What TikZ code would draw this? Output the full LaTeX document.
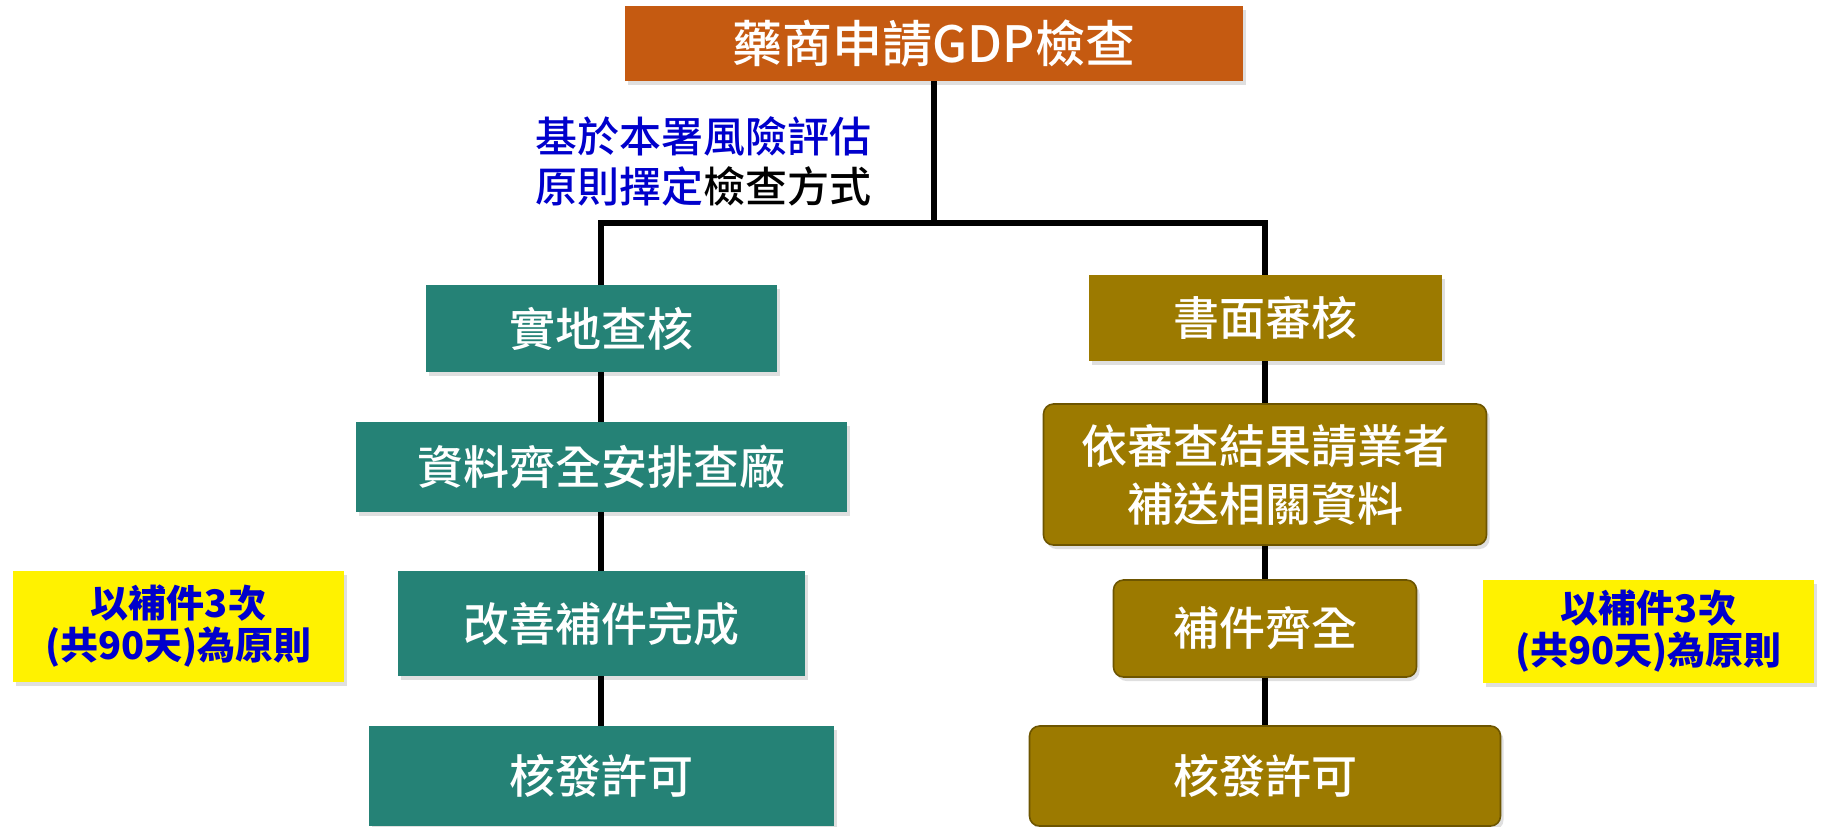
\documentclass[tikz,border=0pt]{standalone}
\usepackage{fontspec}
\setmainfont{Noto Sans CJK TC}
\newfontfamily\cjkmed{Noto Sans CJK TC Medium}
\usetikzlibrary{shadows}
\definecolor{orng}{HTML}{C55A11}
\definecolor{tealbg}{HTML}{258276}
\definecolor{olv}{HTML}{9C7A00}
\definecolor{blu}{HTML}{0000CC}
\begin{document}
\begin{tikzpicture}[x=0.5pt,y=-0.5pt,
  base/.style={inner sep=0pt, text=white, font=\fontsize{23}{29}\selectfont\cjkmed, align=center,
    drop shadow={shadow xshift=1.5pt, shadow yshift=-2pt, opacity=0.25}},
  tealbox/.style={base, fill=tealbg},
  olvbox/.style={base, fill=olv},
  olvround/.style={base, fill=olv, rounded corners=5pt, draw=olv!70!black, line width=0.8pt},
  note/.style={fill=yellow, text=blu, font=\fontsize{19}{21}\selectfont\bfseries, align=center, inner sep=0pt,
    drop shadow={shadow xshift=1.5pt, shadow yshift=-2pt, opacity=0.25}},
  conn/.style={line width=2.8pt, black}]
\useasboundingbox (0,0) rectangle (1821,826);
\fill[white] (0,0) rectangle (1821,826);

\node[base, fill=orng, minimum width=309pt, minimum height=37.5pt, font=\fontsize{25}{30}\selectfont\cjkmed] (top) at (934,43.5) {藥商申請GDP檢查};

\node[font=\fontsize{21}{25}\selectfont\cjkmed, text=blu, align=center, inner sep=0pt] (lbl) at (703,161) {基於本署風險評估\\原則擇定\textcolor{black}{檢查方式}};

\node[tealbox, minimum width=175.5pt, minimum height=43.5pt] (l1) at (601,328.5) {實地查核};
\node[tealbox, minimum width=245.5pt, minimum height=45pt] (l2) at (601,467) {資料齊全安排查廠};
\node[tealbox, minimum width=203.5pt, minimum height=52.5pt] (l3) at (601,623.5) {改善補件完成};
\node[tealbox, minimum width=232.5pt, minimum height=50pt] (l4) at (601,776) {核發許可};

\node[olvbox, minimum width=176.5pt, minimum height=43pt] (r1) at (1265,318) {書面審核};
\node[olvround, minimum width=221.5pt, minimum height=70.5pt] (r2) at (1265,474.5) {依審查結果請業者\\補送相關資料};
\node[olvround, minimum width=151.5pt, minimum height=48.5pt] (r3) at (1265,628.5) {補件齊全};
\node[olvround, minimum width=235.5pt, minimum height=50pt] (r4) at (1265,776) {核發許可};

\node[note, minimum width=165.5pt, minimum height=55.5pt] (yl) at (178.5,626.5) {以補件3次\\(共90天)為原則};
\node[note, minimum width=165.5pt, minimum height=51.5pt] (yr) at (1648.5,631.5) {以補件3次\\(共90天)為原則};

\coordinate (split) at (934,223);
\draw[conn] (top) -- (split);
\draw[conn] (split) -| (l1);
\draw[conn] (split) -| (r1);
\draw[conn] (l1) -- (l2);
\draw[conn] (l2) -- (l3);
\draw[conn] (l3) -- (l4);
\draw[conn] (r1) -- (r2);
\draw[conn] (r2) -- (r3);
\draw[conn] (r3) -- (r4);
\end{tikzpicture}
\end{document}
